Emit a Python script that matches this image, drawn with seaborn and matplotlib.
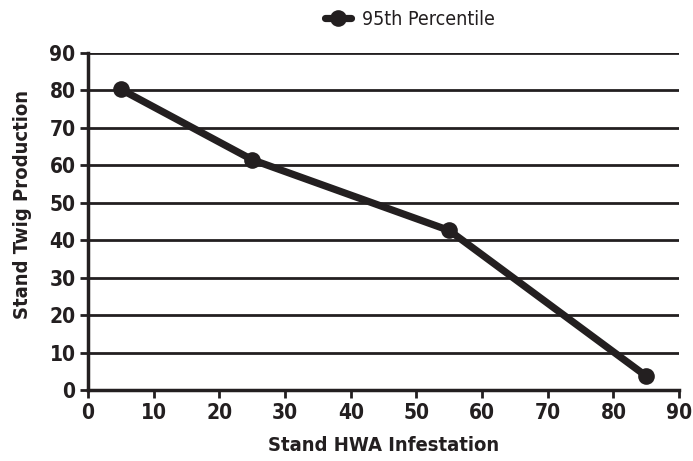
import pandas as pd
import matplotlib.pyplot as plt
import seaborn as sns

# data
infestation = [5, 25, 55, 85]
twig_production = [80.3, 61.5, 42.6, 3.7]
series_name = '95th Percentile'

df = pd.DataFrame({'Stand HWA Infestation': infestation,
                   'Stand Twig Production': twig_production,
                   'series': series_name})

sns.set_style('white')
plt.rcParams['font.family'] = ['DejaVu Sans']
plt.rcParams['font.stretch'] = 'condensed'

dark = '#231f20'
fig = plt.figure(figsize=(6.93, 4.61), dpi=100)
ax = fig.add_axes([0.127, 0.154, 0.853, 0.731])

ax.set_axisbelow(True)
for yv in range(10, 100, 10):
    ax.axhline(yv, color=dark, lw=2, zorder=0)

sns.lineplot(data=df, x='Stand HWA Infestation', y='Stand Twig Production',
             hue='series', palette=[dark], marker='o', markersize=12,
             linewidth=5.2, markeredgewidth=0, ax=ax, zorder=3)

ax.set_xlim(0, 90)
ax.set_ylim(0, 90)
ax.set_xticks(range(0, 100, 10))
ax.set_yticks(range(0, 100, 10))
ax.tick_params(axis='both', direction='out', length=6, width=2, color=dark,
               labelsize=15, labelcolor=dark, pad=3, bottom=True, left=True)
for lab in ax.get_xticklabels() + ax.get_yticklabels():
    lab.set_fontweight('bold')

for s in ['top', 'right']:
    ax.spines[s].set_visible(False)
for s in ['left', 'bottom']:
    ax.spines[s].set_color(dark)
    ax.spines[s].set_linewidth(2.5)

ax.set_xlabel('Stand HWA Infestation', fontsize=14.5, fontweight='bold',
              color=dark, labelpad=10)
ax.set_ylabel('Stand Twig Production', fontsize=14.5, fontweight='bold',
              color=dark)
ax.yaxis.set_label_coords(-0.095, 0.55)

leg = ax.legend(loc='center', bbox_to_anchor=(0.545, 1.1), frameon=False,
                fontsize=14, handlelength=1.3, handletextpad=0.6,
                labelcolor=dark)

plt.savefig('out.png', dpi=100)
